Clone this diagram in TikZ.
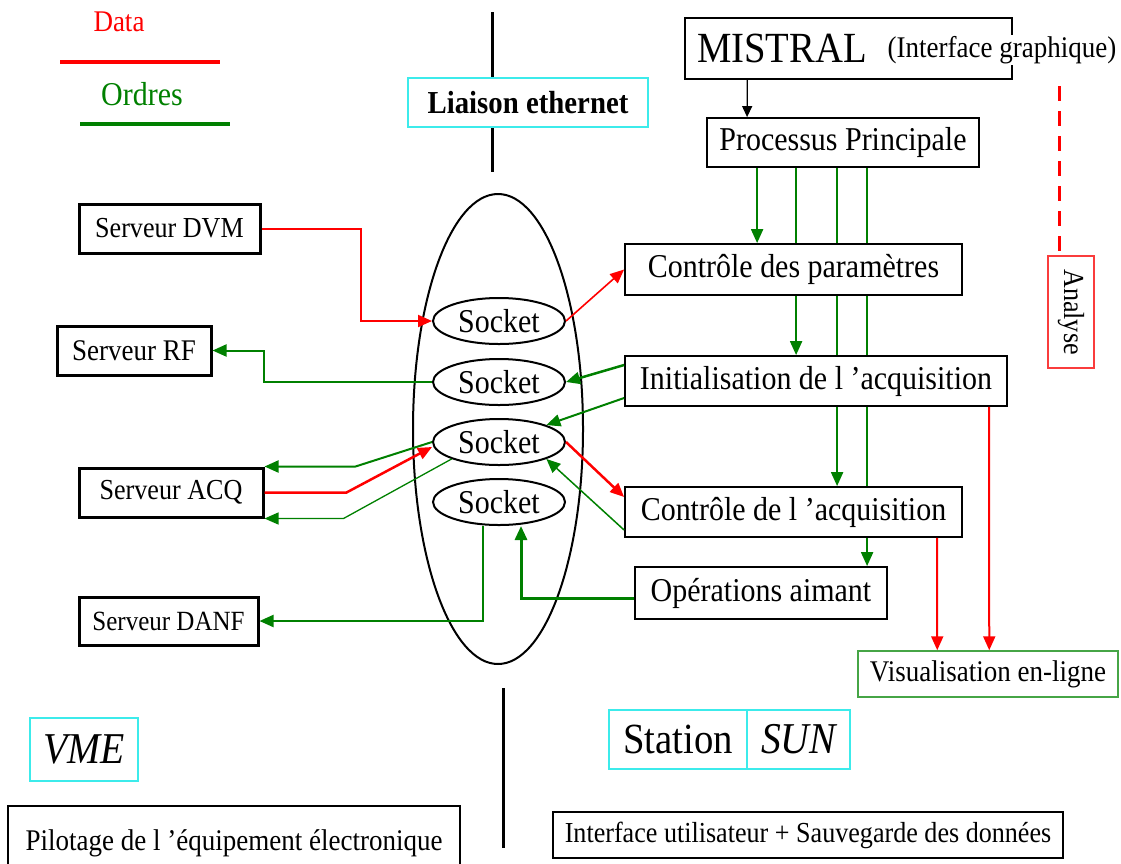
\documentclass[tikz,border=0pt]{standalone}
\usepackage{fontspec}
\usepackage{graphicx}
\setmainfont{Liberation Serif}[FakeStretch=0.9]
\usetikzlibrary{arrows.meta,backgrounds,shapes.geometric}
\definecolor{dgreen}{RGB}{0,128,0}
\definecolor{lgreen}{RGB}{70,165,70}
\definecolor{lred}{RGB}{250,60,60}
\definecolor{mycyan}{RGB}{60,235,235}
\newcommand\myfs[1]{\fontsize{#1}{#1}\selectfont}
\begin{document}
\begin{tikzpicture}[x=1pt,y=-1pt,
  box/.style={draw, fill=white, line width=1.8pt, inner sep=0pt, font=\myfs{33.3}},
  srv/.style={box, line width=3pt, font=\myfs{29}},
  cyanbox/.style={draw=mycyan, fill=white, line width=1.5pt, inner sep=0pt},
  sock/.style={ellipse, draw, fill=white, line width=2pt, minimum width=132, minimum height=46, inner sep=0pt, font=\myfs{33.3}},
  arw/.style={-{Triangle[length=14pt,width=12pt]}},
  gline/.style={draw=dgreen, line width=2pt},
  rline/.style={draw=red, line width=2pt},
]
\clip (0,0) rectangle (1121,863);

% legend
\node[text=red, font=\myfs{30}, inner sep=0pt] (ldata) at (119,22) {Data};
\draw[red, line width=3.5pt] (60,62) -- (220,62);
\node[text=dgreen, font=\myfs{33.3}, inner sep=0pt] (lord) at (142,94) {Ordres};
\draw[dgreen, line width=3.5pt] (80,124) -- (230,124);

% dividers
\draw[line width=3pt] (492,12) -- (492,172);
\draw[line width=3pt] (503,688) -- (503,848);
\node[cyanbox, minimum width=240, minimum height=49, font=\bfseries\myfs{32}] (eth) at (528,102.5) {Liaison ethernet};

% servers
\node[srv, minimum width=181, minimum height=49] (dvm) at (169.5,228.5) {Serveur DVM};
\node[srv, minimum width=154, minimum height=49, font=\myfs{30}] (rf) at (134,350.5) {Serveur RF};
\node[srv, minimum width=184, minimum height=49] (acq) at (171,492.5) {Serveur ACQ};
\node[srv, minimum width=179, minimum height=48, font=\myfs{27.8}] (danf) at (168.5,621) {Serveur DANF};

% ethernet ellipse and sockets
\node[ellipse, draw, line width=2pt, minimum width=170, minimum height=470, inner sep=0pt] (net) at (498,429) {};
\node[sock] (s1) at (499,321) {Socket};
\node[sock] (s2) at (499,382) {Socket};
\node[sock] (s3) at (499,442) {Socket};
\node[sock] (s4) at (499,502) {Socket};

% right side
\node[box, line width=1.5pt, minimum width=327, minimum height=61, text width=303pt, inner xsep=12pt, align=left, font=\myfs{43}] (mistral) at (848.5,48.5) {MISTRAL};
\node[fill=white, inner sep=1pt, font=\myfs{30}] (ig) at (1002,50) {(Interface graphique)};
\node[box, minimum width=272, minimum height=49] (pp) at (843,142.5) {Processus Principale};
\node[box, minimum width=337, minimum height=51] (cp) at (793.5,269.5) {Contrôle des paramètres};
\node[box, minimum width=382, minimum height=50] (ia) at (816,381) {Initialisation de l ’acquisition};
\node[box, minimum width=337, minimum height=50] (ca) at (793.5,512) {Contrôle de l ’acquisition};
\node[box, minimum width=252, minimum height=52] (op) at (761,593) {Opérations aimant};
\node[draw=lgreen, fill=white, line width=1.5pt, inner sep=0pt, minimum width=260, minimum height=46, font=\myfs{30}] (vis) at (988,674) {Visualisation en-ligne};
\node[draw=lred, fill=white, line width=1.5pt, inner sep=0pt, minimum width=46, minimum height=112, font=\myfs{29}] (ana) at (1071,312) {\rotatebox{-90}{Analyse}};

% bottom
\node[cyanbox, minimum width=108, minimum height=63, font=\itshape\myfs{44}] (vme) at (84,749.5) {VME};
\node[cyanbox, minimum width=138, minimum height=59, font=\myfs{43}] (st1) at (678,739.5) {Station};
\node[cyanbox, minimum width=103, minimum height=59, font=\itshape\myfs{44}] (st2) at (798.5,739.5) {SUN};
\node[draw, line width=1.5pt, inner sep=0pt, minimum width=452, minimum height=74, font=\myfs{30}] (pil) at (234,843) {Pilotage de l ’équipement électronique};
\node[draw, line width=1.5pt, inner sep=0pt, minimum width=510, minimum height=46, font=\myfs{29}] (iu) at (808,835) {Interface utilisateur + Sauvegarde des données};

% vertical order lines behind boxes
\begin{scope}[on background layer]
\draw[gline, arw] ([xshift=51pt]pp.south west) -- ([xshift=133pt]cp.north west);
\draw[gline, arw] ([xshift=90pt]pp.south west) -- ([xshift=172pt]ia.north west);
\draw[gline, arw] ([xshift=131pt]pp.south west) -- ([xshift=213pt]ca.north west);
\draw[gline, arw] ([xshift=161pt]pp.south west) -- ([xshift=233pt]op.north west);
\end{scope}

% black arrow
\draw[line width=1.2pt, -{Triangle[length=11pt,width=10pt]}] ([xshift=63pt]mistral.south west) -- ([xshift=41pt]pp.north west);

% data to visualisation
\draw[rline, arw] ([xshift=313pt]ca.south west) -- ([xshift=80pt]vis.north west);
\draw[rline, arw] ([xshift=365pt]ia.south west) -- ([xshift=132pt]vis.north west);

% analyse dashed
\coordinate (dtop) at (1059,86);
\draw[red, line width=3pt, dash pattern=on 15pt off 10pt] (dtop) -- (dtop |- ana.north);

% socket connectors
\draw[rline, arw] (dvm.east) -| ([xshift=-71pt]s1.west) -- (s1.west);
\draw[rline, line width=1.6pt, arw] (s1.east) -- (cp.west);
\draw[gline, arw] (s2.west) -| ([xshift=51pt]rf.east) -- (rf.east);
\draw[gline, line width=2.5pt, arw] ([yshift=16pt]ia.west) -- (s2.east);
\draw[gline, arw] ([yshift=-17pt]ia.west) -- (s3.north east);
\draw[gline, arw] (s3.west) -- ([xshift=91pt]acq.north east) -- (acq.north east);
\draw[rline, line width=2.5pt, arw] (acq.east) -- ([xshift=82pt]acq.east) -- ([yshift=-5pt]s3.west);
\draw[gline, line width=1.3pt, arw] (s3.south west) -- ([xshift=79pt]acq.south east) -- (acq.south east);
\draw[rline, line width=2.5pt, arw] (s3.east) -- ([yshift=15pt]ca.west);
\draw[gline, line width=1.5pt, arw] ([yshift=-18pt]ca.west) -- (s3.south east);
\draw[gline, arw] ([xshift=-16pt]s4.south) |- (danf.east);
\draw[gline, line width=3pt, arw] ([yshift=-5pt]op.west) -| ([xshift=22pt]s4.south);
\end{tikzpicture}
\end{document}
